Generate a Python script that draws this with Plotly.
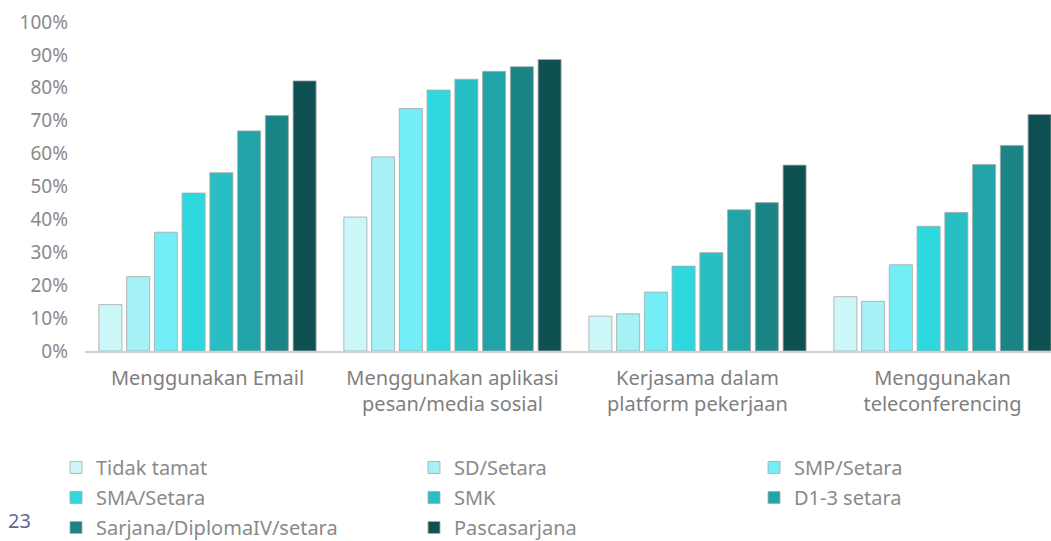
import plotly.graph_objects as go

# Digital activity categories (x axis)
categories = [
    "Menggunakan Email",
    "Menggunakan aplikasi<br>pesan/media sosial",
    "Kerjasama dalam<br>platform pekerjaan",
    "Menggunakan<br>teleconferencing",
]

# Education levels (series)
levels = [
    "Tidak tamat",
    "SD/Setara",
    "SMP/Setara",
    "SMA/Setara",
    "SMK",
    "D1-3 setara",
    "Sarjana/DiplomaIV/setara",
    "Pascasarjana",
]

# Share of respondents (%) per level, one value per category
tidak_tamat = [14.1, 40.7, 10.6, 16.5]
sd_setara = [22.6, 59.0, 11.3, 15.1]
smp_setara = [36.1, 73.7, 17.9, 26.2]
sma_setara = [48.0, 79.3, 25.8, 37.9]
smk = [54.2, 82.6, 29.9, 42.1]
d1_3 = [66.9, 85.0, 42.9, 56.7]
sarjana = [71.6, 86.4, 45.1, 62.5]
pascasarjana = [82.1, 88.6, 56.5, 71.9]

series_values = [tidak_tamat, sd_setara, smp_setara, sma_setara, smk, d1_3, sarjana, pascasarjana]

colors = [
    "#CDF8FA",
    "#A6F1F6",
    "#74EEF6",
    "#2DD8DF",
    "#27BFC3",
    "#20A4A7",
    "#1A8486",
    "#0F5153",
]

y_ticks = list(range(0, 101, 10))
y_tick_text = [f"{v}%" for v in y_ticks]

# legend laid out as three columns, filled row by row
legend_ids = ["legend", "legend2", "legend3"]

fig = go.Figure()
for i, (name, vals, col) in enumerate(zip(levels, series_values, colors)):
    fig.add_trace(go.Bar(
        x=categories,
        y=vals,
        name=name,
        legend=legend_ids[i % 3],
        legendgroup=name,
        marker=dict(color=col, line=dict(color="rgba(170,170,170,0.85)", width=1)),
    ))

legend_font = dict(size=20, color="#8a8a8a")
legend_common = dict(
    orientation="v",
    xref="container",
    yref="container",
    xanchor="left",
    yanchor="top",
    y=0.172,
    itemwidth=30,
    tracegroupgap=1,
    font=legend_font,
    bgcolor="rgba(0,0,0,0)",
)

fig.update_layout(
    width=1051,
    height=541,
    margin=dict(l=85, r=0, t=22, b=190, autoexpand=False),
    paper_bgcolor="white",
    plot_bgcolor="white",
    barmode="group",
    bargap=0.094,
    bargroupgap=0.17,
    font=dict(family="Noto Sans, Open Sans, sans-serif", color="#8a8a8a"),
    xaxis=dict(
        range=[-0.5, 3.443],
        showline=True,
        linecolor="#d0d0d0",
        linewidth=2,
        ticks="",
        showgrid=False,
        tickfont=dict(size=20, color="#7f7f7f"),
        ticklabelstandoff=8,
    ),
    yaxis=dict(
        range=[0, 100],
        tickvals=y_ticks,
        ticktext=y_tick_text,
        showgrid=False,
        zeroline=False,
        tickfont=dict(size=19, color="#8a8a8a"),
        ticklabelstandoff=16,
    ),
    legend=dict(legend_common, x=56 / 1051),
    legend2=dict(legend_common, x=414 / 1051),
    legend3=dict(legend_common, x=754 / 1051),
    showlegend=True,
)

fig.add_annotation(
    text="23",
    xref="paper", yref="paper",
    x=-0.082, y=-0.515,
    xanchor="left", yanchor="middle",
    showarrow=False,
    font=dict(size=20, color="#5b6b8c"),
)

fig.write_html("out.html")
